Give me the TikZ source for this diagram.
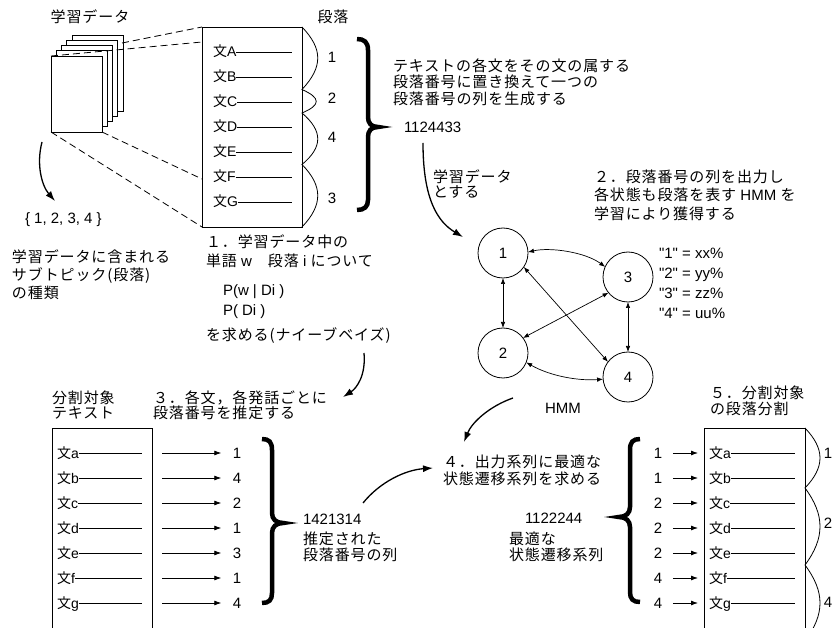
\documentclass[tikz,border=0pt]{standalone}
\usepackage{fontspec}
\setmainfont{Liberation Sans}
\newfontfamily\lat{Liberation Sans}
\newfontfamily\jp[LetterSpace=6]{Noto Sans CJK JP}
\usetikzlibrary{arrows.meta}
\begin{document}
\begin{tikzpicture}[x=1pt,y=-1pt,
  every node/.style={inner sep=0pt,outer sep=0pt},
  % multi-line text blocks are placed by the baseline of their last line
  jtxt/.style={anchor=base west,align=left,font=\fontsize{15}{#1}\selectfont\jp},
  jtxt/.default=17,
  ltxt/.style={anchor=base west,align=left,font=\fontsize{15}{#1}\selectfont\lat},
  ltxt/.default=20,
  jlbl/.style={font=\fontsize{15}{17}\selectfont\jp},
  sent/.style={anchor=west,text height=11.5pt,text depth=1.5pt,font=\fontsize{14}{16}\selectfont\lat},
  digit/.style={text height=11pt,text depth=0pt,font=\fontsize{15}{17}\selectfont\lat},
  page/.style={draw,fill=white,line width=0.8pt,minimum width=51pt,minimum height=76pt},
  frame/.style={line width=0.8pt},
  rule/.style={line width=0.8pt},
  proj/.style={line width=0.8pt,dash pattern=on 7pt off 4pt},
  wave/.style={line width=0.8pt},
  brace/.style={line width=4.5pt},
  state/.style={draw,circle,line width=0.8pt,minimum size=50pt,font=\fontsize{15}{17}\selectfont\lat},
  trans/.style={line width=0.7pt,{Latex[length=6pt,width=4.5pt]}-{Latex[length=6pt,width=4.5pt]}},
  flow/.style={line width=1.3pt,-{Latex[length=10pt,width=7pt]}},
  pick/.style={line width=0.8pt,-{Latex[length=7pt,width=5pt]}},
]
\useasboundingbox (0,0) rectangle (836,628);

% ---------- training data: stack of documents ----------
\node[jlbl] (trainlbl) at (90,17) {学習データ};
\foreach \i in {4,3,2,1,0}
  \node[page] (pg\i) at ({76.5+5.25*\i},{94-5.25*\i}) {};

% ---------- one document, split into paragraphs ----------
\node[jlbl] (paralbl) at (333,17) {段落};
\node[draw,frame,minimum width=100pt,minimum height=200pt] (box1) at (252,127) {};
\coordinate (pj1) at (122,43);
\coordinate (pj2) at (202,42);
\coordinate (pj3) at (202,179);
\draw[proj] (pj1) -- (box1.north west);
\draw[proj] (pg0.north west) -- (pj2);
\draw[proj] (pg0.south west) -- (box1.south west);
\draw[proj] (pg0.south east) -- (pj3);

\coordinate (xr1) at (292,0);
\foreach \l [count=\k from 0] in {A,B,C,D,E,F,G}{
  \node[sent] (s\l) at (213,{52+25*\k}) {{\jp 文}\l};
  \draw[rule] (s\l.east) -- (s\l.east -| xr1);
}
% paragraph bumps along the right edge
\draw[wave] (box1.north east)
  .. controls (323,49) and (323,67) .. (302,89.5)
  .. controls (321,98) and (321,105) .. (302,113)
  .. controls (323,131) and (323,147) .. (302,164.5)
  .. controls (323,186) and (323,205) .. (box1.south east);
\node[digit] (p1) at (332,57) {1};
\node[digit] (p2) at (332,98) {2};
\node[digit] (p4) at (332,137) {4};
\node[digit] (p3) at (332,198) {3};

\draw[brace] (357,39) .. controls (364,39) and (368,42) .. (368,50)
  -- (368,117) .. controls (368,123) and (371,127) .. (378,127)
  .. controls (371,127) and (368,131) .. (368,137)
  -- (368,200) .. controls (368,207) and (364,210) .. (357,210);

\node[jtxt=16.3] (conv) at (393,104.1) {テキストの各文をその文の属する\\段落番号に置き換えて一つの\\段落番号の列を生成する};
\node[ltxt] (seq1) at (404,132.5) {1124433};
\coordinate (f2s) at (423,143);
\coordinate (f2e) at (463,237);
\draw[flow] (f2s) .. controls (423,200) and (438,222) .. (f2e);
\node[jtxt=15] (asdata) at (433,197.2) {学習データ\\とする};

% ---------- label set and naive Bayes ----------
\coordinate (f1s) at (42,142);
\coordinate (f1e) at (55,201);
\draw[flow] (f1s) .. controls (36,165) and (42,186) .. (f1e);
\node[ltxt] (labelset) at (25,223.5) {\{ 1, 2, 3, 4 \}};
\node[jtxt=18] (kinds) at (12,298.5) {学習データに含まれる\\サブトピック(段落)\\の種類};
\node[jtxt=19] (step1) at (206,266.5) {１．学習データ中の\\単語 {\lat w}　段落 {\lat i} について};
\node[ltxt] (pwd) at (223,295.5) {P(w | Di )};
\node[ltxt] (pd) at (223,315.5) {P( Di )};
\node[jtxt] (naive) at (206,340.5) {を求める(ナイーブベイズ)};
\coordinate (f3s) at (364,353);
\coordinate (f3e) at (343,397);
\draw[flow] (f3s) .. controls (366,375) and (357,388) .. (f3e);

% ---------- HMM ----------
\node[jtxt=18.3] (step2) at (594,219.1) {２．段落番号の列を出力し\\各状態も段落を表す {\lat HMM} を\\学習により獲得する};
\node[state] (h1) at (503,253) {1};
\node[state] (h3) at (628,277) {3};
\node[state] (h2) at (503,353) {2};
\node[state] (h4) at (628,377) {4};
\draw[trans] (h1.2) .. controls (550,247) and (585,252) .. (h3.156);
\draw[trans] (h1.south) -- (h2.north);
\draw[trans] (h1.-34) -- (h4.143);
\draw[trans] (h3.219) -- (h2.37);
\draw[trans] (h3.south) -- (h4.north);
\draw[trans] (h2.-22) .. controls (550,376) and (578,381) .. (h4.185);
\node[ltxt=20] (emit) at (659,318.5) {"1" = xx\%\\"2" = yy\%\\"3" = zz\%\\"4" = uu\%};
\node[font=\fontsize{15}{17}\selectfont\lat] (hmmlbl) at (563,408) {HMM};

% ---------- target text ----------
\node[jtxt=15] (target) at (52,418.5) {分割対象\\テキスト};
\node[jtxt=15] (step3) at (153,418.5) {３．各文，各発話ごとに\\段落番号を推定する};
\draw[frame] (52,628) -- (52,428) -- (152,428) -- (152,628);
\coordinate (xr2) at (142,0);
\coordinate (xa2) at (162,0);
\foreach \l/\d [count=\k from 0] in {a/1,b/4,c/2,d/1,e/3,f/1,g/4}{
  \node[sent] (t\l) at (57,{453+25*\k}) {{\jp 文}\l};
  \draw[rule] (t\l.east) -- (t\l.east -| xr2);
  \node[digit] (e\l) at (237,{453+25*\k}) {\d};
  \draw[pick,shorten >=11.5pt] (t\l.east -| xa2) -- (e\l.west);
}
\draw[brace] (262,439) .. controls (269,439) and (272,442) .. (272,450)
  -- (272,513) .. controls (272,519) and (276,523) .. (283,523)
  .. controls (276,523) and (272,527) .. (272,533)
  -- (272,593) .. controls (272,600) and (269,603) .. (262,603);
\node[ltxt] (seq2) at (303,524.5) {1421314};
\node[jtxt=16] (est) at (303,560.5) {推定された\\段落番号の列};

% ---------- decoding ----------
\coordinate (f4s) at (513,398);
\coordinate (f4e) at (464,442);
\draw[flow] (f4s) .. controls (490,406) and (472,422) .. (f4e);
\coordinate (f5s) at (363,503);
\coordinate (f5e) at (433,468);
\draw[flow] (f5s) .. controls (380,482) and (405,470) .. (f5e);
\node[jtxt=17] (step4) at (443,484.5) {４．出力系列に最適な\\状態遷移系列を求める};
\node[ltxt] (seq3) at (525,523.5) {1122244};
\node[jtxt=16] (best) at (509,560.5) {最適な\\状態遷移系列};

% ---------- segmentation result ----------
\node[jtxt=16] (step5) at (710,414.5) {５．分割対象\\の段落分割};
\draw[brace] (640,439) .. controls (633,439) and (630,442) .. (630,450)
  -- (630,507) .. controls (630,513) and (626,517) .. (619,517)
  .. controls (626,517) and (630,521) .. (630,527)
  -- (630,592) .. controls (630,599) and (633,602) .. (640,602);
\draw[frame] (704,628) -- (704,428) -- (805,428) -- (805,628);
\coordinate (xr3) at (795,0);
\foreach \l/\d [count=\k from 0] in {a/1,b/1,c/2,d/2,e/2,f/4,g/4}{
  \node[digit] (o\l) at (658,{453+25*\k}) {\d};
  \node[sent] (u\l) at (709,{453+25*\k}) {{\jp 文}\l};
  \draw[rule] (u\l.east) -- (u\l.east -| xr3);
  \draw[pick,shorten <=10.8pt,shorten >=11pt] (o\l.east) -- (u\l.west);
}
\draw[wave] (805,428)
  .. controls (825,449) and (825,467) .. (805,488)
  .. controls (825,515) and (825,538) .. (805,565)
  .. controls (825,592) and (825,614) .. (805,641);
\node[digit] (q1) at (828,453) {1};
\node[digit] (q2) at (828,523) {2};
\node[digit] (q4) at (828,602) {4};
\end{tikzpicture}
\end{document}
